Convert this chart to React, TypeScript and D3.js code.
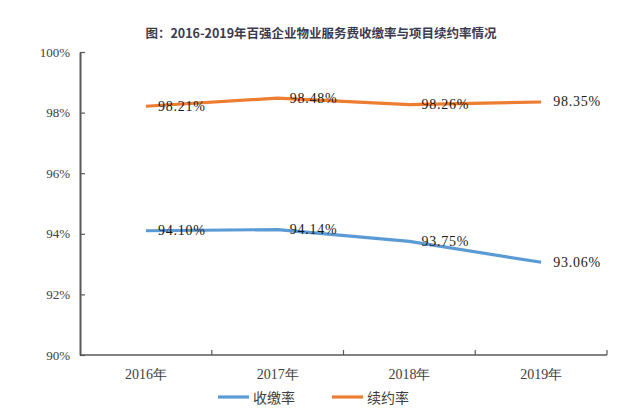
import { useRef, useEffect } from 'react'
import * as d3 from 'd3'

const years = ['2016年', '2017年', '2018年', '2019年']
const collectionRate = [94.10, 94.14, 93.75, 93.06]
const renewalRate = [98.21, 98.48, 98.26, 98.35]
const yTicks = [90, 92, 94, 96, 98, 100]

const seriesList = [
  { name: '收缴率', values: collectionRate, color: '#5B9BD5' },
  { name: '续约率', values: renewalRate, color: '#ED7D31' },
]

const width = 635
const height = 419
const margin = { top: 52, right: 28, bottom: 64, left: 80 }
const serif = "'Times New Roman', 'Liberation Serif', serif"
const cjk = "'Noto Sans CJK SC', sans-serif"

export default function App() {
  const svgRef = useRef<SVGSVGElement>(null)

  useEffect(() => {
    if (!svgRef.current) return
    const svg = d3.select(svgRef.current)
    svg.selectAll('*').remove()

    const x = d3.scaleBand<string>()
      .domain(years)
      .range([margin.left, width - margin.right])
      .padding(0)
    const y = d3.scaleLinear()
      .domain([90, 100])
      .range([height - margin.bottom, margin.top])

    const cx = (d: string) => (x(d) ?? 0) + x.bandwidth() / 2

    // title
    svg.append('text')
      .attr('x', 321)
      .attr('y', 32)
      .attr('text-anchor', 'middle')
      .attr('dominant-baseline', 'central')
      .attr('font-family', cjk)
      .attr('font-weight', 700)
      .attr('font-size', '12.5px')
      .attr('fill', '#3b3b50')
      .text('图：2016-2019年百强企业物业服务费收缴率与项目续约率情况')

    // y axis
    const yAxis = d3.axisLeft(y)
      .tickValues(yTicks)
      .tickSizeInner(-5)
      .tickSizeOuter(0)
      .tickPadding(10)
      .tickFormat(d => `${d}%`)

    const yg = svg.append('g')
      .attr('transform', `translate(${margin.left},0)`)
      .call(yAxis)
    yg.attr('font-family', serif)
    yg.select('.domain').attr('stroke', '#595959').attr('stroke-width', 2)
    yg.selectAll('.tick line').attr('stroke', '#595959').attr('stroke-width', 1.2)
    yg.selectAll('.tick text')
      .attr('font-family', serif)
      .attr('font-size', '13px')
      .attr('fill', '#404040')

    // x axis
    const baseY = height - margin.bottom
    svg.append('line')
      .attr('x1', margin.left)
      .attr('x2', width - margin.right)
      .attr('y1', baseY)
      .attr('y2', baseY)
      .attr('stroke', '#595959')
      .attr('stroke-width', 1.5)

    const bounds = years.map(d => x(d) ?? 0).concat([width - margin.right])
    svg.append('g')
      .selectAll('line')
      .data(bounds.slice(1))
      .enter()
      .append('line')
      .attr('x1', d => d)
      .attr('x2', d => d)
      .attr('y1', baseY)
      .attr('y2', baseY - 5)
      .attr('stroke', '#595959')
      .attr('stroke-width', 1.2)

    svg.append('g')
      .selectAll('text')
      .data(years)
      .enter()
      .append('text')
      .attr('x', d => cx(d))
      .attr('y', 374)
      .attr('text-anchor', 'middle')
      .attr('dominant-baseline', 'central')
      .attr('font-family', serif)
      .attr('font-size', '14px')
      .attr('fill', '#404040')
      .text(d => d)

    // lines
    const line = d3.line<number>()
      .x((_, i) => cx(years[i]))
      .y(d => y(d))
      .curve(d3.curveLinear)

    seriesList.forEach(s => {
      svg.append('path')
        .datum(s.values)
        .attr('d', line)
        .attr('fill', 'none')
        .attr('stroke', s.color)
        .attr('stroke-width', 3.2)
        .attr('stroke-linejoin', 'round')

      svg.append('g')
        .selectAll('text')
        .data(s.values)
        .enter()
        .append('text')
        .attr('x', (_, i) => cx(years[i]) + 12)
        .attr('y', d => y(d))
        .attr('dominant-baseline', 'central')
        .attr('font-family', serif)
        .attr('font-size', '14px')
        .attr('letter-spacing', '0.8px')
        .attr('fill', '#1a1a1a')
        .text(d => `${d.toFixed(2)}%`)
    })

    // legend
    const legendX = [218, 332]
    seriesList.forEach((s, i) => {
      svg.append('line')
        .attr('x1', legendX[i])
        .attr('x2', legendX[i] + 31)
        .attr('y1', 397)
        .attr('y2', 397)
        .attr('stroke', s.color)
        .attr('stroke-width', 3.2)
      svg.append('text')
        .attr('x', legendX[i] + 35)
        .attr('y', 397)
        .attr('dominant-baseline', 'central')
        .attr('font-family', cjk)
        .attr('font-size', '14px')
        .attr('fill', '#404040')
        .text(s.name)
    })
  }, [])

  return (
    <svg
      ref={svgRef}
      width={width}
      height={height}
      style={{ position: 'fixed', left: 0, top: 0, background: '#fff' }}
    />
  )
}
